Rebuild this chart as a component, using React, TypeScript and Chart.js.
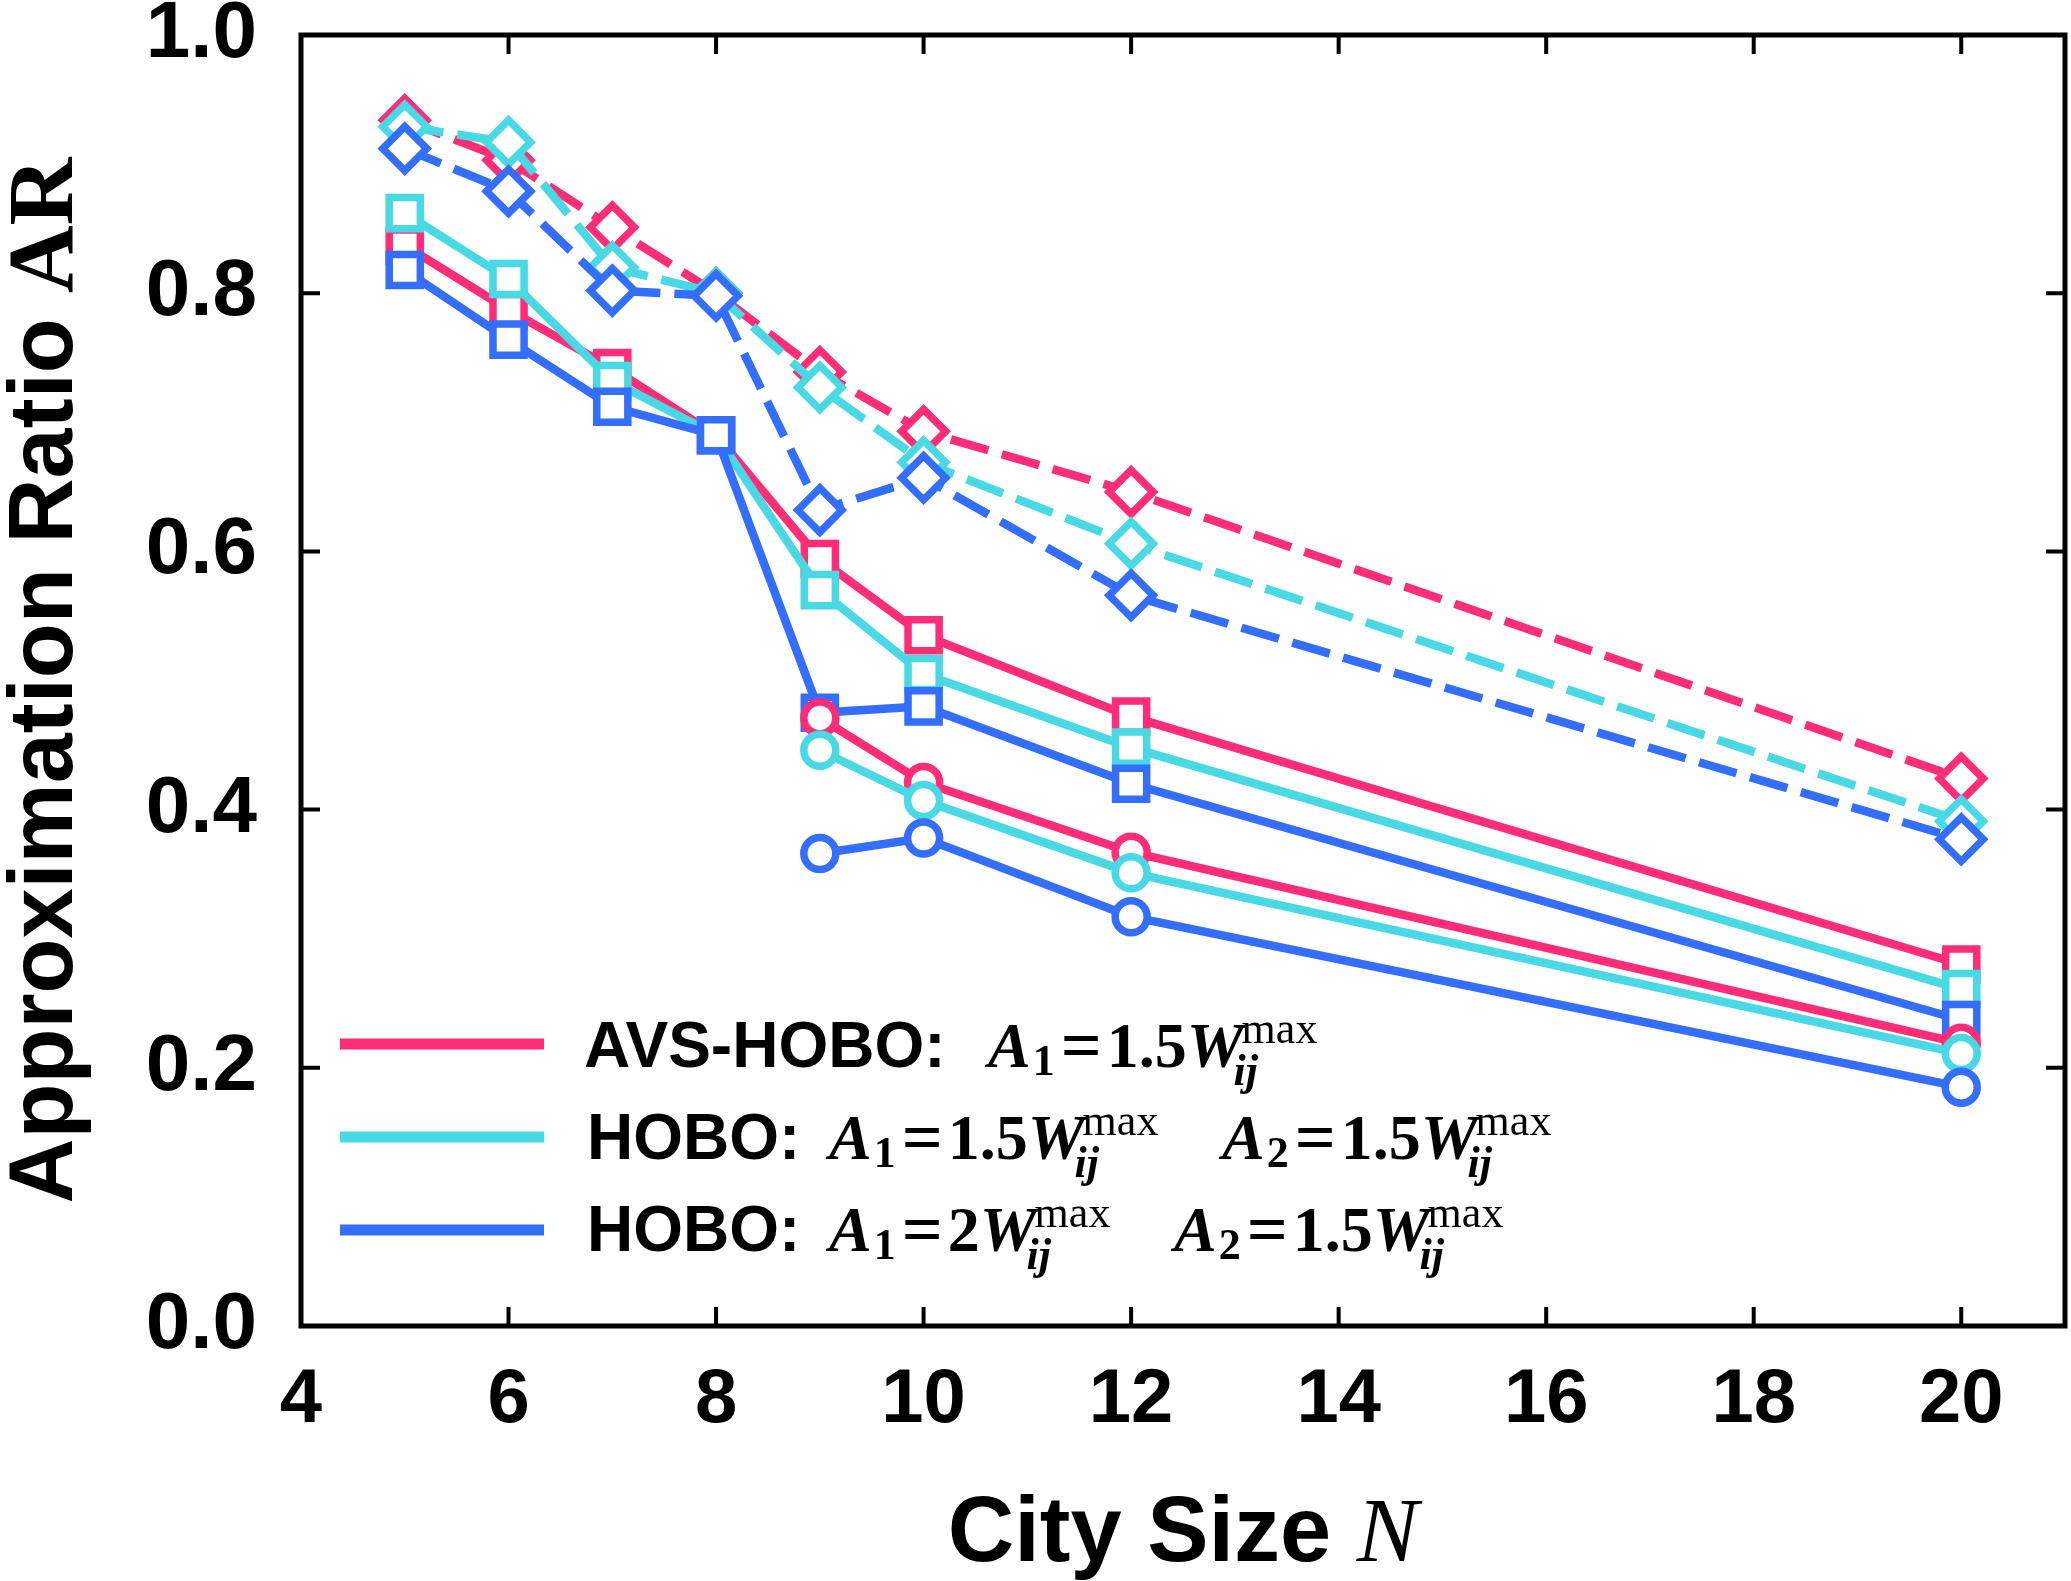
import { useEffect, useRef } from "react";
import { Chart, registerables } from "chart.js";

Chart.register(...registerables);

// City sizes N tested, and the subset where the circle series were measured
const citySizes = [5, 6, 7, 8, 9, 10, 12, 20];
const circleSizes = [9, 10, 12, 20];

// Axis tick positions
const xTickValues = [4, 6, 8, 10, 12, 14, 16, 18, 20];
const yTickValues = [0, 0.2, 0.4, 0.6, 0.8, 1.0];

// Approximation ratio, diamond markers (dashed lines)
const avsDiamond = [0.934, 0.903, 0.851, 0.8, 0.739, 0.693, 0.646, 0.424];
const hoboDiamond = [0.929, 0.917, 0.82, 0.8, 0.727, 0.669, 0.606, 0.391];
const hobo2Diamond = [0.912, 0.879, 0.802, 0.798, 0.632, 0.657, 0.566, 0.377];

// Approximation ratio, square markers (solid lines)
const avsSquare = [0.837, 0.787, 0.742, 0.69, 0.594, 0.535, 0.472, 0.28];
const hoboSquare = [0.862, 0.811, 0.732, 0.69, 0.57, 0.505, 0.448, 0.261];
const hobo2Square = [0.818, 0.764, 0.712, 0.69, 0.475, 0.48, 0.42, 0.237];

// Approximation ratio, circle markers (solid lines)
const avsCircle = [0.471, 0.421, 0.367, 0.219];
const hoboCircle = [0.446, 0.407, 0.351, 0.211];
const hobo2Circle = [0.366, 0.378, 0.317, 0.185];

const RED = "#FF2C78";
const CYAN = "#48D9E5";
const BLUE = "#336EFF";

const SANS = "'Liberation Sans', Arial, sans-serif";
const SERIF = "'Liberation Serif', 'Times New Roman', serif";

// Plot frame inside the 2071x1581 canvas
const AREA = { left: 301, top: 35, right: 2065, bottom: 1326 };

type Seg = { text: string; font: string; dx: number; dy: number };

const pts = (xs: number[], ys: number[]) => xs.map((x, i) => ({ x, y: ys[i] }));

// Lay out "A_k = c W_ij^max" as positioned text pieces
function formula(ctx: CanvasRenderingContext2D, index: string, coef: string): { segs: Seg[]; width: number } {
  const big = 64;
  const small = 44;
  const segs: Seg[] = [];
  let cx = 0;
  const put = (text: string, font: string, dy: number, advance = true, at?: number) => {
    ctx.font = font;
    const x = at === undefined ? cx : at;
    segs.push({ text, font, dx: x, dy });
    const w = ctx.measureText(text).width;
    if (advance) cx = x + w;
    return x + w;
  };
  put("A", `italic bold ${big}px ${SERIF}`, 0);
  put(index, `bold ${small}px ${SERIF}`, 8, true, cx + 2);
  cx += 6;
  put("=", `bold ${big + 8}px ${SERIF}`, 2);
  cx += 5;
  put(coef, `bold ${big}px ${SERIF}`, 0);
  put("W", `italic bold ${big}px ${SERIF}`, 0);
  const wEnd = cx;
  const e1 = put("max", `${small}px ${SERIF}`, -24, false, wEnd - 2);
  const e2 = put("ij", `italic bold ${small}px ${SERIF}`, 18, false, wEnd - 10);
  return { segs, width: Math.max(e1, e2) };
}

function drawSegs(ctx: CanvasRenderingContext2D, x: number, y: number, segs: Seg[]) {
  for (const s of segs) {
    ctx.font = s.font;
    ctx.fillText(s.text, x + s.dx, y + s.dy);
  }
}

const framePlugin = {
  id: "frameAndAnnotations",
  afterDraw(chart: Chart) {
    const { ctx, chartArea } = chart;
    const { left, right, top, bottom } = chartArea;
    const xs = chart.scales.x;
    const ys = chart.scales.y;
    ctx.save();

    // inward tick marks on all four sides
    ctx.strokeStyle = "#000";
    ctx.lineWidth = 4;
    const tl = 19;
    ctx.beginPath();
    for (const v of xTickValues) {
      const px = xs.getPixelForValue(v);
      if (px <= left + 2) continue;
      ctx.moveTo(px, bottom);
      ctx.lineTo(px, bottom - tl);
      ctx.moveTo(px, top);
      ctx.lineTo(px, top + tl);
    }
    for (const v of yTickValues) {
      const py = ys.getPixelForValue(v);
      if (py <= top + 2 || py >= bottom - 2) continue;
      ctx.moveTo(left, py);
      ctx.lineTo(left + tl, py);
      ctx.moveTo(right, py);
      ctx.lineTo(right - tl, py);
    }
    ctx.stroke();

    // plot frame
    ctx.lineWidth = 5;
    ctx.strokeRect(left, top, right - left, bottom - top);

    ctx.fillStyle = "#000";
    ctx.textAlign = "left";
    ctx.textBaseline = "alphabetic";

    // x-axis title
    {
      const f1 = `bold 92px ${SANS}`;
      const f2 = `italic 92px ${SERIF}`;
      ctx.font = f1;
      const w1 = ctx.measureText("City Size ").width;
      ctx.font = f2;
      const w2 = ctx.measureText("N").width;
      const cx = (left + right) / 2;
      const x0 = cx - (w1 + w2) / 2;
      drawSegs(ctx, x0, 1561, [
        { text: "City Size ", font: f1, dx: 0, dy: 0 },
        { text: "N", font: f2, dx: w1, dy: 0 },
      ]);
    }

    // y-axis title
    {
      const f1 = `bold 90px ${SANS}`;
      const f2 = `bold 94px ${SERIF}`;
      ctx.font = f1;
      const w1 = ctx.measureText("Approximation Ratio ").width;
      ctx.font = f2;
      const w2 = ctx.measureText("AR").width;
      ctx.translate(72, (top + bottom) / 2);
      ctx.rotate(-Math.PI / 2);
      drawSegs(ctx, -(w1 + w2) / 2, 0, [
        { text: "Approximation Ratio ", font: f1, dx: 0, dy: 0 },
        { text: "AR", font: f2, dx: w1, dy: 0 },
      ]);
      ctx.setTransform(1, 0, 0, 1, 0, 0);
    }

    // legend
    const rows = [
      { color: RED, y: 1044, base: 1067, label: "AVS-HOBO:", lx: 584, parts: [{ x: 988, idx: "1", coef: "1.5" }] },
      {
        color: CYAN,
        y: 1137,
        base: 1159,
        label: "HOBO:",
        lx: 587,
        parts: [
          { x: 829, idx: "1", coef: "1.5" },
          { x: 1222, idx: "2", coef: "1.5" },
        ],
      },
      {
        color: BLUE,
        y: 1230,
        base: 1251,
        label: "HOBO:",
        lx: 587,
        parts: [
          { x: 829, idx: "1", coef: "2" },
          { x: 1174, idx: "2", coef: "1.5" },
        ],
      },
    ];
    for (const r of rows) {
      ctx.strokeStyle = r.color;
      ctx.lineWidth = 11;
      ctx.lineCap = "butt";
      ctx.beginPath();
      ctx.moveTo(340, r.y);
      ctx.lineTo(544, r.y);
      ctx.stroke();
      ctx.fillStyle = "#000";
      ctx.font = `bold 64px ${SANS}`;
      ctx.fillText(r.label, r.lx, r.base);
      for (const p of r.parts) {
        const fm = formula(ctx, p.idx, p.coef);
        drawSegs(ctx, p.x, r.base, fm.segs);
      }
    }
    ctx.restore();
  },
};

type Series = { data: { x: number; y: number }[]; color: string; style: "rect" | "circle" | "rectRot" };

export default function App() {
  const canvasRef = useRef<HTMLCanvasElement | null>(null);

  useEffect(() => {
    if (!canvasRef.current) return;

    // listed bottom-most first
    const series: Series[] = [
      { data: pts(citySizes, avsSquare), color: RED, style: "rect" },
      { data: pts(citySizes, hoboSquare), color: CYAN, style: "rect" },
      { data: pts(citySizes, hobo2Square), color: BLUE, style: "rect" },
      { data: pts(circleSizes, avsCircle), color: RED, style: "circle" },
      { data: pts(circleSizes, hoboCircle), color: CYAN, style: "circle" },
      { data: pts(circleSizes, hobo2Circle), color: BLUE, style: "circle" },
      { data: pts(citySizes, avsDiamond), color: RED, style: "rectRot" },
      { data: pts(citySizes, hoboDiamond), color: CYAN, style: "rectRot" },
      { data: pts(citySizes, hobo2Diamond), color: BLUE, style: "rectRot" },
    ];

    const datasets = series.map((s, i) => {
      const dashed = s.style === "rectRot";
      return {
        data: s.data,
        order: series.length - i,
        borderColor: s.color,
        borderWidth: 8.5,
        borderDash: dashed ? [39, 14] : [],
        borderCapStyle: "butt" as const,
        fill: false,
        tension: 0,
        clip: false,
        pointStyle: s.style,
        pointRadius: s.style === "rect" ? 22 : s.style === "circle" ? 16 : 22,
        pointBorderWidth: 7.5,
        pointBorderColor: s.color,
        pointBackgroundColor: "#ffffff",
      };
    });

    const chart = new Chart(canvasRef.current, {
      type: "line",
      data: { datasets },
      options: {
        animation: false,
        responsive: false,
        devicePixelRatio: 1,
        events: [],
        layout: {
          autoPadding: false,
          padding: { top: AREA.top, right: 2071 - AREA.right, left: 0, bottom: 0 },
        },
        plugins: { legend: { display: false }, tooltip: { enabled: false } },
        scales: {
          x: {
            type: "linear",
            min: 4,
            max: 21,
            afterBuildTicks: (scale: any) => {
              scale.ticks = xTickValues.map((v) => ({ value: v }));
            },
            afterFit: (scale: any) => {
              scale.height = 1581 - AREA.bottom;
              scale.paddingLeft = 0;
              scale.paddingRight = 0;
            },
            grid: { display: false, drawTicks: false },
            border: { display: false },
            ticks: {
              color: "#000",
              padding: 37,
              maxRotation: 0,
              autoSkip: false,
              font: { family: SANS, weight: "bold", size: 76, lineHeight: 1 },
            },
          },
          y: {
            type: "linear",
            min: 0,
            max: 1,
            afterBuildTicks: (scale: any) => {
              scale.ticks = yTickValues.map((v) => ({ value: v }));
            },
            afterFit: (scale: any) => {
              scale.width = AREA.left;
              scale.paddingTop = 0;
              scale.paddingBottom = 0;
            },
            grid: { display: false, drawTicks: false },
            border: { display: false },
            ticks: {
              color: "#000",
              padding: 44,
              autoSkip: false,
              callback: (v: any) => Number(v).toFixed(1),
              font: { family: SANS, weight: "bold", size: 80, lineHeight: 1 },
            },
          },
        },
      },
      plugins: [framePlugin],
    } as any);

    return () => chart.destroy();
  }, []);

  return (
    <div style={{ position: "fixed", left: 0, top: 0, width: 2071, height: 1581, background: "#fff" }}>
      <canvas ref={canvasRef} width={2071} height={1581} style={{ display: "block" }} />
    </div>
  );
}
